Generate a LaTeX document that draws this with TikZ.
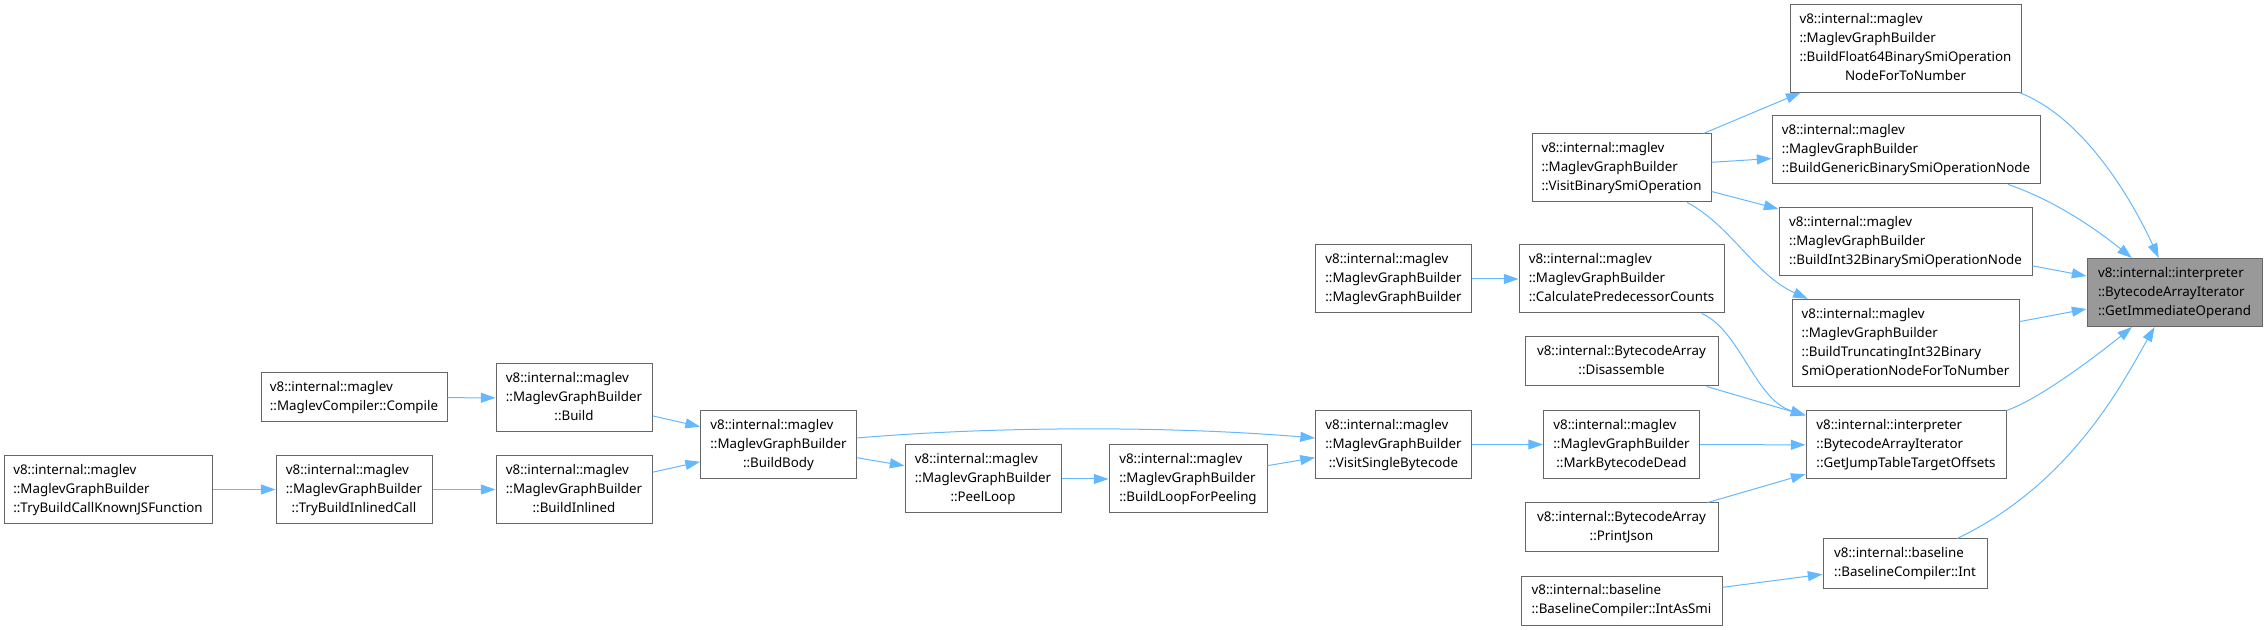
\documentclass[tikz,border=0pt]{standalone}
\usepackage{fontspec}
\setmainfont{Noto Sans}
\usepackage{tikz}
\usetikzlibrary{arrows.meta}
\definecolor{dxblue}{HTML}{63B8FF}
\definecolor{dxframe}{HTML}{666666}
\definecolor{dxfill}{HTML}{999999}
\newcommand{\fnlabel}[2]{\begin{tabular}{@{}l@{}}#1\\\multicolumn{1}{@{}c@{}}{#2}\end{tabular}}

\begin{document}
\begin{tikzpicture}[x=0.75pt, y=-0.75pt,
    fn/.style={draw=dxframe, line width=0.75pt, fill=white, inner sep=0pt,
      minimum width=117pt, minimum height=51pt,
      font=\fontsize{10pt}{14.25pt}\selectfont},
    two/.style={minimum height=36.75pt},
    four/.style={minimum height=65.5pt},
    call/.style={dxblue, line width=0.75pt, -{Triangle[length=11pt, width=7.5pt]}}]
  \useasboundingbox (0,0) rectangle (2267,630);

  \node[fn, minimum width=156pt] (tbckjs) at (108,489.5) {\fnlabel{v8::internal::maglev\\::MaglevGraphBuilder}{::TryBuildCallKnownJSFunction}};
  \node[fn] (tbic) at (354,489.5) {\fnlabel{v8::internal::maglev\\::MaglevGraphBuilder}{::TryBuildInlinedCall}};
  \node[fn, two, minimum width=139.5pt] (compile) at (354,397.5) {\fnlabel{v8::internal::maglev}{::MaglevCompiler::Compile}};
  \node[fn] (build) at (574,398) {\fnlabel{v8::internal::maglev\\::MaglevGraphBuilder}{::Build}};
  \node[fn] (binl) at (574,489.5) {\fnlabel{v8::internal::maglev\\::MaglevGraphBuilder}{::BuildInlined}};
  \node[fn] (bbody) at (778.5,444.5) {\fnlabel{v8::internal::maglev\\::MaglevGraphBuilder}{::BuildBody}};
  \node[fn] (peel) at (983,479) {\fnlabel{v8::internal::maglev\\::MaglevGraphBuilder}{::PeelLoop}};
  \node[fn, minimum width=118.5pt] (blfp) at (1188,479) {\fnlabel{v8::internal::maglev\\::MaglevGraphBuilder}{::BuildLoopForPeeling}};
  \node[fn] (vsb) at (1393.5,444.5) {\fnlabel{v8::internal::maglev\\::MaglevGraphBuilder}{::VisitSingleBytecode}};
  \node[fn] (mgb) at (1393.5,279) {\fnlabel{v8::internal::maglev\\::MaglevGraphBuilder}{::MaglevGraphBuilder}};
  \node[fn, minimum width=153.75pt] (cpc) at (1621.5,279) {\fnlabel{v8::internal::maglev\\::MaglevGraphBuilder}{::CalculatePredecessorCounts}};
  \node[fn, two, minimum width=144.75pt] (disas) at (1621.5,361.5) {\fnlabel{v8::internal::BytecodeArray}{::Disassemble}};
  \node[fn] (mbd) at (1621.5,444.5) {\fnlabel{v8::internal::maglev\\::MaglevGraphBuilder}{::MarkBytecodeDead}};
  \node[fn, two, minimum width=144.75pt] (pjson) at (1621.5,527.5) {\fnlabel{v8::internal::BytecodeArray}{::PrintJson}};
  \node[fn, two, minimum width=150.75pt] (iasmi) at (1621.5,600.5) {\fnlabel{v8::internal::baseline}{::BaselineCompiler::IntAsSmi}};
  \node[fn, minimum width=134.25pt] (vbso) at (1621.5,168) {\fnlabel{v8::internal::maglev\\::MaglevGraphBuilder}{::VisitBinarySmiOperation}};
  \node[fn, four, minimum width=173.25pt] (bf64) at (1905.5,48.5) {\fnlabel{v8::internal::maglev\\::MaglevGraphBuilder\\::BuildFloat64BinarySmiOperation}{NodeForToNumber}};
  \node[fn, minimum width=201pt] (bgen) at (1906,150) {\fnlabel{v8::internal::maglev\\::MaglevGraphBuilder}{::BuildGenericBinarySmiOperationNode}};
  \node[fn, minimum width=189.75pt] (bi32) at (1905.5,242) {\fnlabel{v8::internal::maglev\\::MaglevGraphBuilder}{::BuildInt32BinarySmiOperationNode}};
  \node[fn, four, minimum width=170.25pt] (btrunc) at (1905.5,343) {\fnlabel{v8::internal::maglev\\::MaglevGraphBuilder\\::BuildTruncatingInt32Binary}{SmiOperationNodeForToNumber}};
  \node[fn, minimum width=150pt] (gjt) at (1906,445) {\fnlabel{v8::internal::interpreter\\::BytecodeArrayIterator}{::GetJumpTableTargetOffsets}};
  \node[fn, two, minimum width=123pt] (bcint) at (1905,563.5) {\fnlabel{v8::internal::baseline}{::BaselineCompiler::Int}};
  \node[fn, fill=dxfill, minimum width=131.25pt] (gio) at (2174.5,292.5) {\fnlabel{v8::internal::interpreter\\::BytecodeArrayIterator}{::GetImmediateOperand}};

  \draw[call] (tbckjs) -- (tbic);
  \draw[call] (tbic) -- (binl);
  \draw[call] (compile) -- (build);
  \draw[call] (build) -- (bbody);
  \draw[call] (binl) -- (bbody);
  \draw[call] (bbody) .. controls (1000,426) and (1170,426) .. (vsb);
  \draw[call] (bbody) -- (peel);
  \draw[call] (peel) -- (blfp);
  \draw[call] (blfp) -- (vsb);
  \draw[call] (mgb) -- (cpc);
  \draw[call] (vsb) -- (mbd);
  \draw[call] (cpc) .. controls (1740,330) and (1755,400) .. (gjt);
  \draw[call] (disas) -- (gjt);
  \draw[call] (mbd) -- (gjt);
  \draw[call] (pjson) -- (gjt);
  \draw[call] (iasmi) -- (bcint);
  \draw[call] (vbso) -- (bf64);
  \draw[call] (vbso) -- (bgen);
  \draw[call] (vbso) -- (bi32);
  \draw[call] (vbso) .. controls (1730,225) and (1755,275) .. (btrunc);
  \draw[call] (bf64) .. controls (2085,118) and (2133,202) .. (gio);
  \draw[call] (bgen) .. controls (2054,200) and (2096,229) .. (gio);
  \draw[call] (bi32) -- (gio);
  \draw[call] (btrunc) -- (gio);
  \draw[call] (gjt) .. controls (2040,399) and (2100,353) .. (gio);
  \draw[call] (bcint) .. controls (2073,483) and (2124,380) .. (gio);
\end{tikzpicture}
\end{document}
